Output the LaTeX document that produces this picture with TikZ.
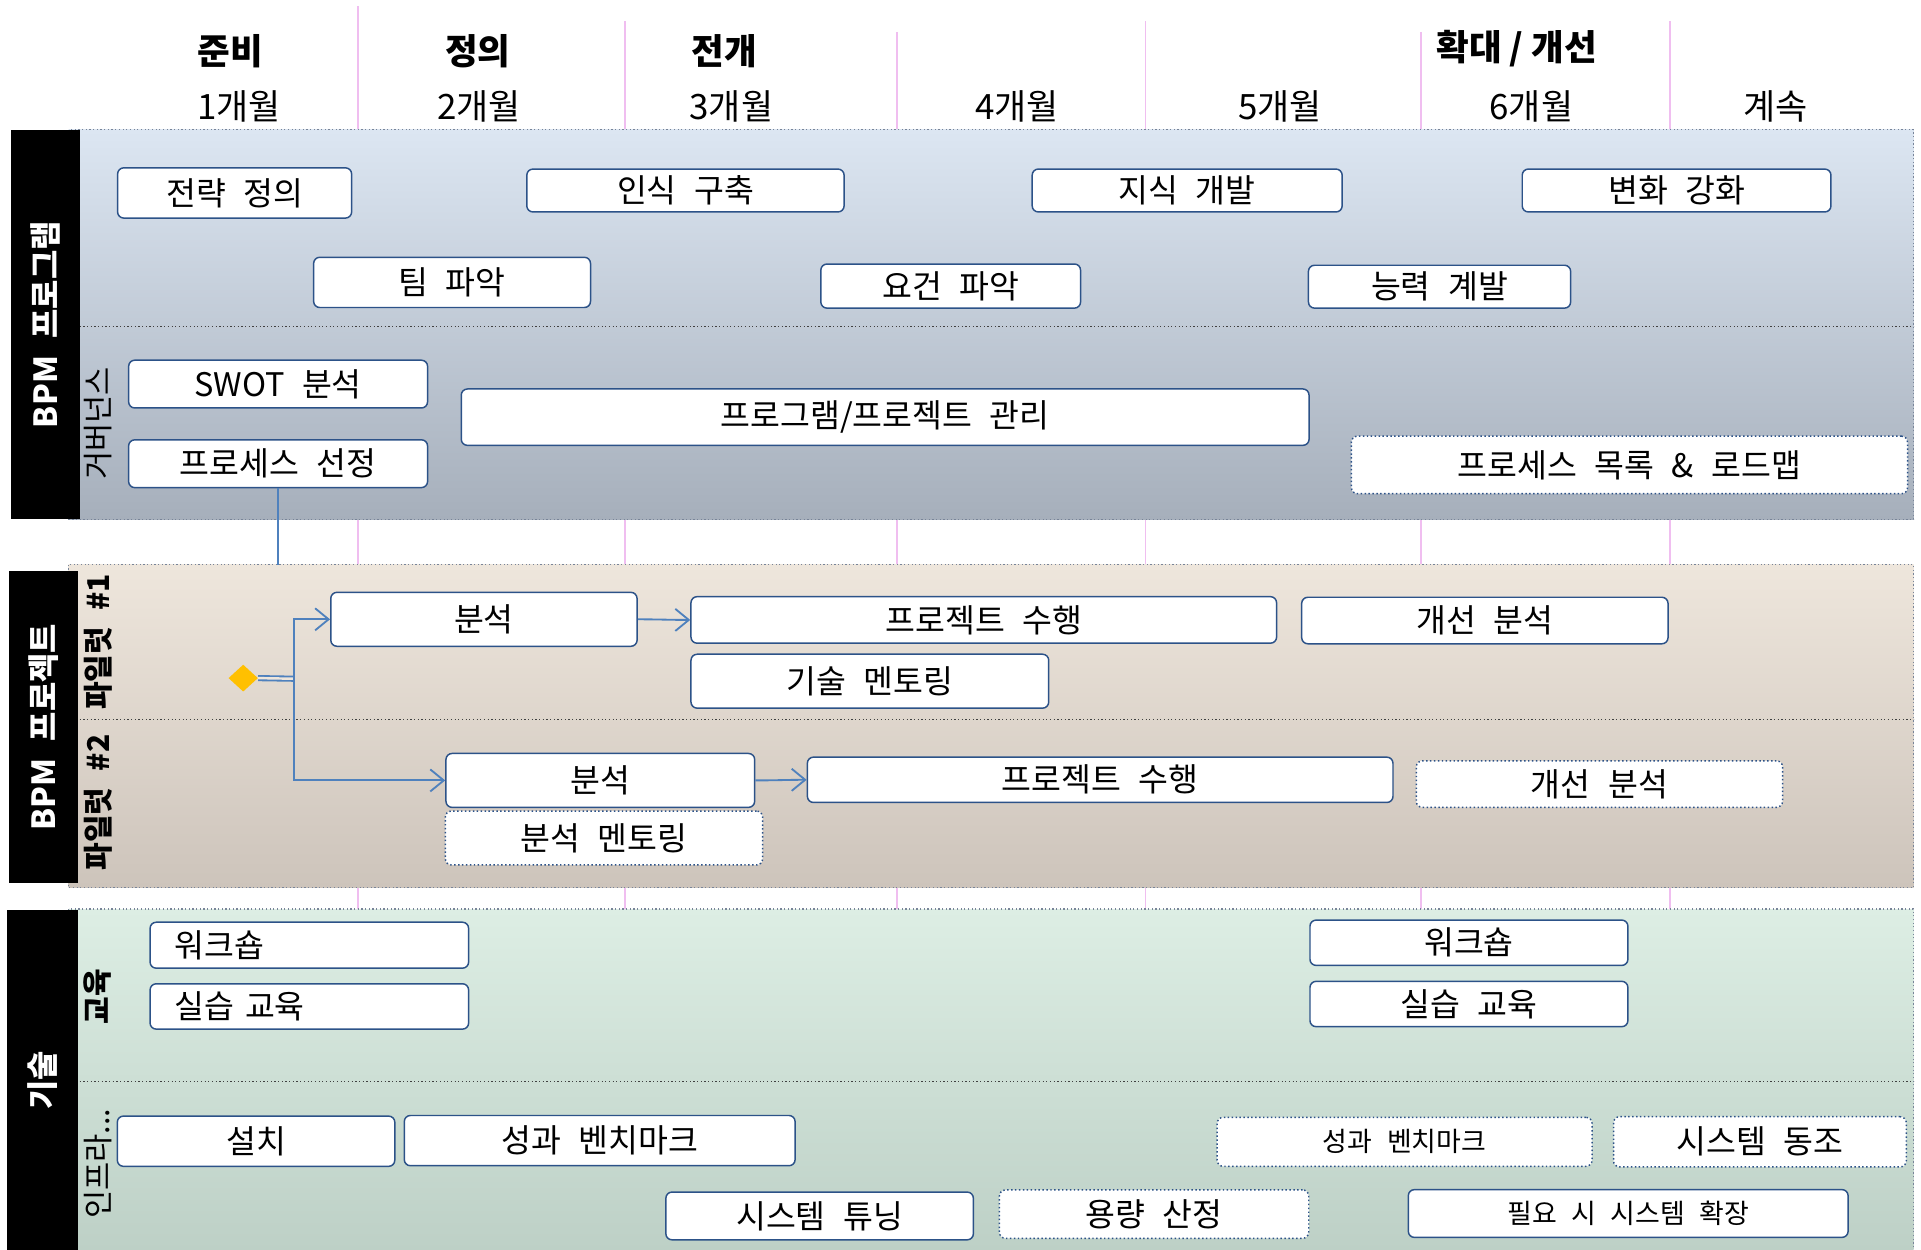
\documentclass[tikz,border=0pt]{standalone}
\usepackage{fontspec}
\setmainfont{Noto Sans CJK KR}[WordSpace=2.4]
\newfontfamily\headfont{Noto Sans CJK KR}
\usepackage{tikz}
\usetikzlibrary{arrows.meta,shapes.geometric}

\definecolor{boxline}{RGB}{44,82,136}
\definecolor{linkblue}{RGB}{79,129,189}
\definecolor{gold}{RGB}{255,192,0}
\definecolor{pinkline}{RGB}{240,190,240}
\definecolor{bandedge}{RGB}{120,132,152}
\definecolor{bOneTop}{RGB}{220,230,242}
\definecolor{bOneBot}{RGB}{166,175,187}
\definecolor{bTwoTop}{RGB}{238,230,220}
\definecolor{bTwoBot}{RGB}{205,196,187}
\definecolor{bThreeTop}{RGB}{221,238,228}
\definecolor{bThreeBot}{RGB}{188,207,197}

\begin{document}
\begin{tikzpicture}[x=1pt,y=-1pt,
  >={Straight Barb[length=11pt,width=18pt]},
  box/.style={draw=boxline,line width=1.2pt,fill=white,rounded corners=5pt,inner sep=0pt,font=\fontsize{26.5}{30}\selectfont},
  dbox/.style={box,dotted},
  smalltext/.style={font=\fontsize{22}{26}\selectfont},
  head/.style={font=\headfont\fontsize{29}{34}\selectfont\bfseries},
  mlabel/.style={font=\headfont\fontsize{28.5}{34}\selectfont},
  lane/.style={fill=black,text=white,inner sep=0pt,font=\fontsize{26}{30}\selectfont\bfseries},
  sublabel/.style={inner sep=0pt,font=\fontsize{25}{30}\selectfont},
  subbold/.style={inner sep=0pt,font=\fontsize{24.5}{30}\selectfont\bfseries},
  monthline/.style={pinkline,line width=1.3pt},
  bandbox/.style={draw=bandedge,line width=1pt,dotted},
  divider/.style={black!75,line width=1pt,dotted},
  link/.style={linkblue,line width=1.5pt}]
\useasboundingbox (0,0) rectangle (1568,1020);

% month lines
\foreach \x/\t in {292/5,510/17,732/26,935/17,1160/26,1363/17}
  \draw[monthline] (\x,\t) -- (\x,1020);

% header
\node[head] (prep) at(188,42){준비};
\node[head] (defn) at(390,42){정의};
\node[head] (deploy) at(591,42){전개};
\node[head] (grow) at(1238,40){확대 / 개선};
\node[mlabel] (m1) at(195,87){1개월};
\node[mlabel] (m2) at(391,87){2개월};
\node[mlabel] (m3) at(597,87){3개월};
\node[mlabel] (m4) at(830,87){4개월};
\node[mlabel] (m5) at(1045,87){5개월};
\node[mlabel] (m6) at(1250,87){6개월};
\node[mlabel] (mcont) at(1449,87){계속};

% bands
\draw[bandbox,top color=bOneTop,bottom color=bOneBot] (56,106) rectangle (1562,424);
\draw[bandbox,top color=bTwoTop,bottom color=bTwoBot] (56,461) rectangle (1562,724.5);
\draw[bandbox,top color=bThreeTop,bottom color=bThreeBot] (56,742) rectangle (1562,1030);
\draw[divider] (65,266.5) -- (1562,266.5);
\draw[divider] (65,587.5) -- (1562,587.5);
\draw[divider] (65,882.5) -- (1562,882.5);

\node[lane,rotate=90,minimum width=318,minimum height=56] (prog) at(37,265){BPM 프로그램};
\node[lane,rotate=90,minimum width=255,minimum height=56.5] (proj) at(35.7,593.5){BPM 프로젝트};
\node[lane,rotate=90,minimum width=278,minimum height=57.5] (tech) at(34.7,882){기술};

\node[sublabel,rotate=90] (gov) at(80,345.5){거버넌스};
\node[subbold,rotate=90] (pilot1) at(80,524){파일럿 \#1};
\node[subbold,rotate=90] (pilot2) at(80,655){파일럿 \#2};
\node[subbold,rotate=90] (edu) at(80,813.5){교육};
\node[sublabel,rotate=90] (infra) at(80,950){인프라...};

% BPM program
\node[box,minimum width=191,minimum height=41] (strat) at(191.5,157.5){전략 정의};
\node[box,minimum width=259,minimum height=35] (aware) at(559.5,155.5){인식 구축};
\node[box,minimum width=253,minimum height=35] (know) at(969,155.5){지식 개발};
\node[box,minimum width=252,minimum height=35] (change) at(1368.5,155.5){변화 강화};
\node[box,minimum width=226,minimum height=41] (team) at(369,230.5){팀 파악};
\node[box,minimum width=212,minimum height=36] (req) at(776,233.5){요건 파악};
\node[box,minimum width=214,minimum height=35] (skill) at(1175,234){능력 계발};
\node[box,minimum width=244,minimum height=39] (swot) at(227,313.5){SWOT 분석};
\node[box,minimum width=244,minimum height=39] (sel) at(227,378.5){프로세스 선정};
\node[box,minimum width=692,minimum height=46] (pm) at(722.5,340.5){프로그램/프로젝트 관리};
\node[dbox,minimum width=454,minimum height=47] (road) at(1330,379.5){프로세스 목록 \& 로드맵};

\coordinate (drop) at(227,461);
\draw[link](sel) -- (drop);

% BPM project
\node[box,minimum width=250,minimum height=44] (anOne) at(395,505.5){분석};
\node[box,minimum width=478,minimum height=38] (runOne) at(803,506){프로젝트 수행};
\node[box,minimum width=299,minimum height=38] (impOne) at(1212,506.5){개선 분석};
\node[box,minimum width=292,minimum height=44] (mentor) at(710,556){기술 멘토링};
\node[box,minimum width=252,minimum height=44] (anTwo) at(490,637){분석};
\node[dbox,minimum width=259,minimum height=44] (anMentor) at(493,684){분석 멘토링};
\node[box,minimum width=478,minimum height=37] (runTwo) at(898,636.5){프로젝트 수행};
\node[dbox,minimum width=299,minimum height=38] (impTwo) at(1305.5,640){개선 분석};
\node[diamond,fill=gold,minimum width=24,minimum height=22,inner sep=0pt] (start) at(198.5,553.5){};

\coordinate (fork) at(240,554);
\draw[link,double=bTwoTop,double distance=2pt](start.east) -- (fork);
\draw[link,->](fork) |- (anOne.west);
\draw[link,->](fork) |- (anTwo.west);
\draw[link,->](anOne) to[out=0,in=180] (runOne);
\draw[link,->](anTwo) to[out=0,in=180] (runTwo);

% technology
\node[box,text width=220,align=left,inner xsep=20,minimum height=37.5] (wsOne) at(252.5,771.5){워크숍};
\node[box,text width=220,align=left,inner xsep=20,minimum height=37] (trainOne) at(252.5,821.5){실습 교육};
\node[box,minimum width=259.5,minimum height=37] (wsTwo) at(1199,769.5){워크숍};
\node[box,minimum width=259.5,minimum height=37] (trainTwo) at(1199,819.5){실습 교육};
\node[box,minimum width=226.5,minimum height=41] (install) at(209,931.5){설치};
\node[box,minimum width=319,minimum height=41] (benchOne) at(489.5,931){성과 벤치마크};
\node[dbox,smalltext,minimum width=306,minimum height=40] (benchTwo) at(1146.5,932){성과 벤치마크};
\node[dbox,minimum width=239,minimum height=41] (sync) at(1436.5,932){시스템 동조};
\node[box,minimum width=251,minimum height=39] (tune) at(669,992.5){시스템 튜닝};
\node[dbox,minimum width=252.5,minimum height=39.5] (capacity) at(942,991){용량 산정};
\node[box,smalltext,minimum width=359,minimum height=39] (expand) at(1329,990.5){필요 시 시스템 확장};

\end{tikzpicture}
\end{document}
